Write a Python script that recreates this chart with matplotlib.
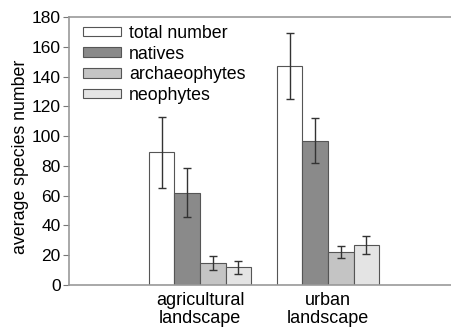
import numpy as np
import matplotlib.pyplot as plt
from matplotlib.patches import Patch

plt.rcParams['font.family'] = ['Liberation Sans', 'DejaVu Sans']

# data
landscapes = ['agricultural\nlandscape', 'urban\nlandscape']
series = ['total number', 'natives', 'archaeophytes', 'neophytes']
means = {
    'total number': [89, 147],
    'natives': [62, 97],
    'archaeophytes': [15, 22],
    'neophytes': [12, 27],
}
errors = {
    'total number': [24, 22],
    'natives': [16.5, 15],
    'archaeophytes': [4.8, 4],
    'neophytes': [4.4, 6],
}
colors = ['#ffffff', '#8a8a8a', '#c4c4c4', '#e4e4e4']

fig = plt.figure(figsize=(4.51, 3.32), dpi=100)
ax = fig.add_axes([69 / 451, 47 / 332, 382 / 451, 268 / 332])

x = np.array([1, 2])
width = 0.2
for i, s in enumerate(series):
    pos = x + (i - 1.5) * width
    ax.bar(pos, means[s], width, color=colors[i], edgecolor='#555555', linewidth=0.8,
           yerr=errors[s], capsize=3,
           error_kw=dict(ecolor='#333333', elinewidth=1.0, capthick=1.0))

ax.set_xlim(-0.023, 2.96)
ax.set_ylim(0, 180)
ax.set_yticks(range(0, 181, 20))
ax.set_xticks(x)
ax.set_xticklabels(landscapes, fontsize=13, linespacing=1.05)
ax.tick_params(axis='x', length=0, pad=5)
ax.tick_params(axis='y', labelsize=12.5, length=4, color='#777777', pad=2)
ax.set_ylabel('average species number', fontsize=12.8)
ax.yaxis.set_label_coords(-0.105, 0.48)

for side in ['left', 'bottom', 'top']:
    ax.spines[side].set_color('#999999')
    ax.spines[side].set_linewidth(1.2)
ax.spines['right'].set_visible(False)

handles = [Patch(facecolor=colors[i], edgecolor='#555555', linewidth=0.8) for i in range(4)]
ax.legend(handles, series, loc='upper left', frameon=False, fontsize=12.8,
          handlelength=2.15, handleheight=0.45, handletextpad=0.45, labelspacing=0.2,
          borderpad=0, borderaxespad=0, bbox_to_anchor=(14 / 382, 1 - 8 / 268))

fig.savefig('out.png', dpi=100)
